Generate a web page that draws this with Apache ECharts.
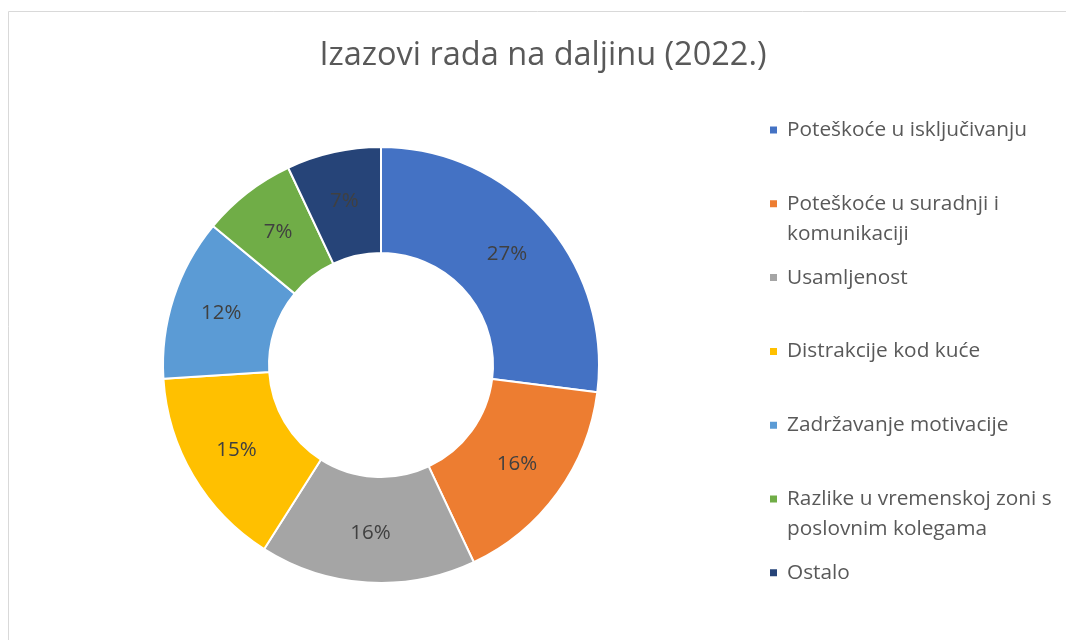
<!DOCTYPE html>
<html>
<head>
<meta charset="utf-8">
<script src="https://cdn.jsdelivr.net/npm/echarts@6/dist/echarts.min.js"></script>
<style>html,body{margin:0;padding:0;background:#fff}#c{width:1066px;height:640px}</style>
</head>
<body>
<div id="c"></div>
<script>
const titleText = 'Izazovi rada na daljinu (2022.)';
const categories = ['Poteškoće u isključivanju', 'Poteškoće u suradnji i komunikaciji', 'Usamljenost', 'Distrakcije kod kuće', 'Zadržavanje motivacije', 'Razlike u vremenskoj zoni s poslovnim kolegama', 'Ostalo'];
const legendLines = [['Poteškoće u isključivanju'], ['Poteškoće u suradnji i', 'komunikaciji'], ['Usamljenost'], ['Distrakcije kod kuće'], ['Zadržavanje motivacije'], ['Razlike u vremenskoj zoni s', 'poslovnim kolegama'], ['Ostalo']];
const values = [27, 16, 16, 15, 12, 7, 7];
const colors = ['#4472C4', '#ED7D31', '#A5A5A5', '#FFC000', '#5B9BD5', '#70AD47', '#264478'];

const FONT = 'Open Sans';
const legendTop0 = 130, legendStep = 73.8, textX = 786, lineH = 30, LFS = 20.8;
const legends = [];
const graphics = [{type:'rect', shape:{x:8.5, y:11.5, width:1080, height:700}, style:{fill:'none', stroke:'#d9d9d9', lineWidth:1}, silent:true}];
categories.forEach((name, i) => {
  const cy = legendTop0 + legendStep * i;
  legends.push({
    orient:'vertical', left: textX - 18, top: cy - 13, itemWidth: 9, itemHeight: 9, itemGap: 0, padding:0,
    icon:'rect', selectedMode:false, data:[name],
    formatter: () => legendLines[i][0],
    textStyle:{fontFamily:FONT, fontSize:LFS, color:'#595959', lineHeight:26, padding:[0,0,0,4]}
  });
  if (legendLines[i].length > 1) {
    graphics.push({type:'text', left: textX + 1, top: cy + lineH - 13, style:{text: legendLines[i][1], font: LFS + 'px ' + FONT, fill:'#595959', lineHeight:26}});
  }
});

const chart = echarts.init(document.getElementById('c'));
chart.setOption({
  animation:false,
  title:{text:titleText, left:538, top:34, textAlign:'center', textStyle:{fontFamily:FONT, fontSize:32.5, fontWeight:'normal', color:'#595959'}},
  legend: legends,
  graphic: graphics,
  series:[{
    type:'pie', center:[381, 365], radius:[112, 218], startAngle:90, clockwise:true,
    itemStyle:{borderColor:'#fff', borderWidth:2},
    label:{show:true, position:'inside', formatter:'{d}%', fontFamily:FONT, fontSize:20.5, color:'#404040'},
    labelLine:{show:false},
    data: categories.map((n, i) => ({name:n, value:values[i], itemStyle:{color:colors[i]}}))
  }]
});
</script>
</body>
</html>
